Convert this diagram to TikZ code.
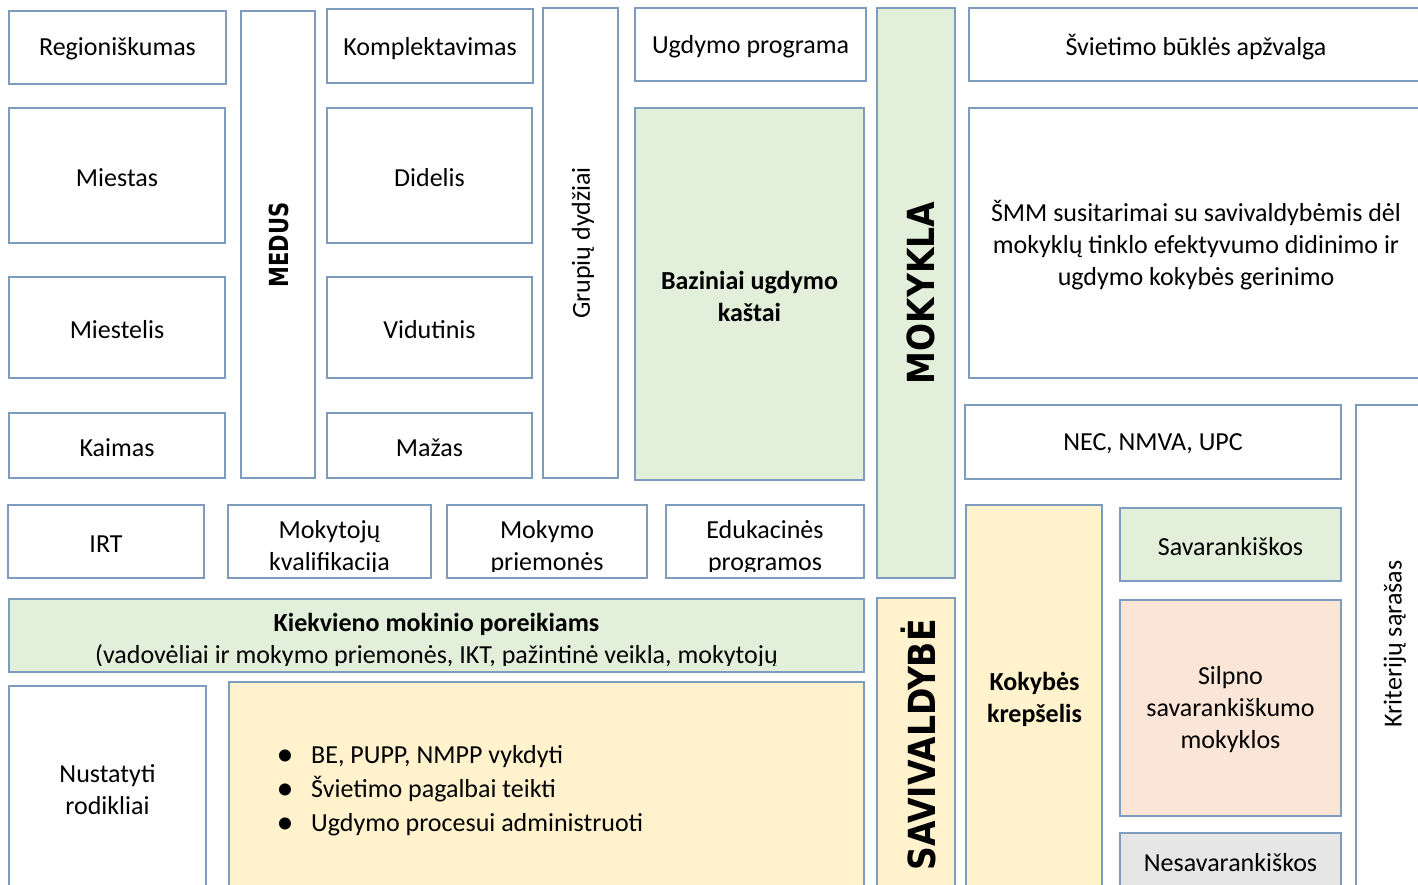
\documentclass[tikz,border=0pt]{standalone}
\usepackage{fontspec}
\setmainfont{Carlito}
\newfontfamily\vfont{DejaVu Sans}
\definecolor{bd}{RGB}{126,156,190}
\definecolor{gfill}{RGB}{226,239,218}
\definecolor{yfill}{RGB}{255,242,204}
\definecolor{pfill}{RGB}{251,229,214}
\definecolor{grfill}{RGB}{230,230,230}
\tikzset{
  box/.style={draw=bd, line width=1.6pt, fill=white, inner sep=0pt, outer sep=0pt},
  boxline/.style={draw=bd, line width=1.6pt},
  green/.style={fill=gfill},
  yellow/.style={fill=yfill},
  peach/.style={fill=pfill},
  grey/.style={fill=grfill},
  txt/.style={font=\fontsize{26}{32}\selectfont, align=center, inner sep=0pt, text=black},
  btxt/.style={txt, font=\bfseries\fontsize{26}{32}\selectfont},
  vtxt/.style={txt, rotate=90},
  big/.style={font=\vfont\bfseries\fontsize{33}{40}\selectfont, rotate=90, inner sep=0pt},
  mid/.style={font=\vfont\bfseries\fontsize{21}{25}\selectfont, rotate=90, inner sep=0pt},
  bull/.style={font=\fontsize{34}{34}\selectfont, inner sep=0pt, anchor=base},
}
\newcommand\bx[6]{\node[box,#6,minimum width={(#4-#2)*1pt},minimum height={(#5-#3)*1pt}] (#1) at ({(#2+#4)/2},{(#3+#5)/2}) {};}
\begin{document}
\begin{tikzpicture}[x=1pt,y=-1pt]
\useasboundingbox (0,0) rectangle (1418,885);
\clip (0,0) rectangle (1418,885);
% boxes
\bx{reg}{9}{11}{226}{84}{}
\bx{medus}{241}{11}{315}{478}{}
\bx{komp}{327}{9}{533}{83}{}
\bx{grup}{543}{8}{618}{478}{}
\bx{ugd}{635}{8}{866}{81}{}
\bx{mok}{877}{8}{955}{578}{green}
\bx{svb}{969}{8}{1424}{81}{}
\bx{miestas}{9}{108}{225}{243}{}
\bx{didelis}{327}{108}{532}{243}{}
\bx{baz}{635}{108}{864}{480}{green}
\bx{smm}{969}{108}{1424}{378}{}
\bx{miestelis}{9}{277}{225}{378}{}
\bx{vidutinis}{327}{277}{532}{378}{}
\bx{kaimas}{9}{413}{225}{478}{}
\bx{mazas}{327}{413}{532}{478}{}
\bx{nec}{965}{405}{1341}{479}{}
\bx{krit}{1356}{405}{1434}{900}{}
\bx{irt}{8}{505}{204}{578}{}
\bx{mkv}{228}{505}{431}{578}{}
\bx{mpr}{447}{505}{647}{578}{}
\bx{edu}{666}{505}{864}{578}{}
\bx{kok}{966}{505}{1102}{891}{yellow}
\bx{sav}{1120}{508}{1341}{581}{green}
\bx{kiek}{9}{599}{864}{672}{green}
\bx{savi}{877}{598}{955}{889}{yellow}
\bx{silp}{1120}{600}{1341}{816}{peach}
\bx{nust}{9}{686}{206}{891}{}
\bx{bul}{229}{682}{864}{894}{yellow}
\bx{nes}{1120}{833}{1341}{889}{grey}
% texts
\node[txt] (reg-t) at (117.5,49) {Regioniškumas};
\node[mid] (medus-t) at (279,245) {\scalebox{1}[1.25]{MEDUS}};
\node[txt] (komp-t) at (430,48.5) {Komplektavimas};
\node[vtxt] (grup-t) at (583,243) {Grupių dydžiai};
\node[txt] (ugd-t) at (750.5,47) {Ugdymo programa};
\node[big] (mok-t) at (921,293) {\scalebox{1}[1.13]{MOKYKLA}};
\node[txt] (svb-t) at (1196,47) {Švietimo būklės apžvalga};
\node[txt] (miestas-t) at (117,178) {Miestas};
\node[txt] (didelis-t) at (429.5,178) {Didelis};
\node[btxt] (baz-t) at (749.5,296) {Baziniai ugdymo\\kaštai};
\node[txt] (smm-t) at (1196,245) {ŠMM susitarimai su savivaldybėmis dėl\\mokyklų tinklo efektyvumo didinimo ir\\ugdymo kokybės gerinimo};
\node[txt] (miestelis-t) at (117,330) {Miestelis};
\node[txt] (vidutinis-t) at (429.5,330) {Vidutinis};
\node[txt] (kaimas-t) at (117,448) {Kaimas};
\node[txt] (mazas-t) at (429.5,448) {Mažas};
\node[txt] (nec-t) at (1153,444) {NEC, NMVA, UPC};
\node[vtxt] (krit-t) at (1395,644) {Kriterijų sąrašas};
\node[txt] (irt-t) at (106,544) {IRT};
\begin{scope}
\clip (228,505) rectangle (431,571);
\node[txt] (mkv-t) at (329.5,548) {Mokytojų\\kvalifikacija};
\end{scope}
\begin{scope}
\clip (447,505) rectangle (647,571);
\node[txt] (mpr-t) at (547,548) {Mokymo\\priemonės};
\end{scope}
\begin{scope}
\clip (666,505) rectangle (864,571);
\node[txt] (edu-t) at (765,548) {Edukacinės\\programos};
\end{scope}
\begin{scope}
\clip (9,599) rectangle (864,665);
\node[txt] (kiek-t) at (436.5,641) {\textbf{Kiekvieno mokinio poreikiams}\\(vadovėliai ir mokymo priemonės, IKT, pažintinė veikla, mokytojų};
\end{scope}
\draw[boxline] (mkv.south west) rectangle (mkv.north east);
\draw[boxline] (mpr.south west) rectangle (mpr.north east);
\draw[boxline] (edu.south west) rectangle (edu.north east);
\draw[boxline] (kiek.south west) rectangle (kiek.north east);
\node[btxt] (kok-t) at (1034.5,699) {Kokybės\\krepšelis};
\node[txt] (sav-t) at (1230.5,547) {Savarankiškos};
\node[big] (savi-t) at (918,745) {\scalebox{1}[1.13]{SAVIVALDYBĖ}};
\node[txt] (silp-t) at (1230.5,710) {Silpno\\savarankiškumo\\mokyklos};
\node[txt] (nust-t) at (107.5,790) {Nustatyti\\rodikliai};
\node[bull] (b1) at (285,765) {\textbullet};
\node[bull] (b2) at (285,799) {\textbullet};
\node[bull] (b3) at (285,833) {\textbullet};
\node[txt, anchor=base west] (l1) at (311,763) {BE, PUPP, NMPP vykdyti};
\node[txt, anchor=base west] (l2) at (311,797) {Švietimo pagalbai teikti};
\node[txt, anchor=base west] (l3) at (311,831) {Ugdymo procesui administruoti};
\node[txt] (nes-t) at (1230.5,863) {Nesavarankiškos};
\end{tikzpicture}
\end{document}
